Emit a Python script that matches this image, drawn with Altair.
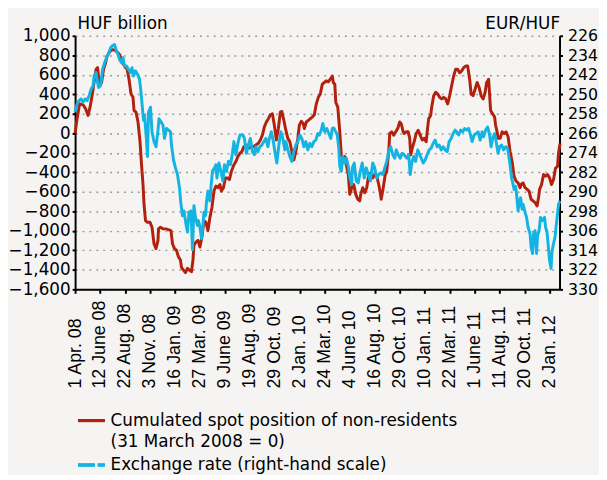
import json
import altair as alt
import pandas as pd

# x: business-day index counted from 1 Apr. 2008 (one tick label every 50 days)
tick_labels = ["1 Apr. 08", "12 June 08", "22 Aug. 08", "3 Nov. 08", "16 Jan. 09",
               "27 Mar. 09", "9 June 09", "19 Aug. 09", "29 Oct. 09", "2 Jan. 10",
               "24 Mar. 10", "4 June 10", "16 Aug. 10", "29 Oct. 10", "10 Jan. 11",
               "22 Mar. 11", "1 June 11", "11 Aug. 11", "20 Oct. 11", "2 Jan. 12"]

# Cumulated spot position of non-residents (HUF billion)
red_day = [0, 4, 9, 16, 21, 26, 30, 34, 38, 42, 45, 49, 53, 57, 61, 64, 70, 75, 80, 86, 89, 93, 97,
           101, 104, 108, 112, 116, 118, 122, 126, 130, 133, 136, 138, 141, 145, 150, 154, 158, 162,
           166, 167, 171, 176, 182, 188, 192, 195, 199, 203, 207, 211, 213, 217, 221, 225, 229, 233,
           236, 238, 242, 246, 250, 254, 258, 262, 266, 270, 274, 278, 282, 286, 290, 293, 297, 301,
           305, 309, 313, 318, 322, 326, 330,
           334, 338, 343, 347, 353, 357, 362, 367, 371, 375, 379, 383, 387, 391, 395, 399, 403, 407,
           411, 414, 418, 422, 426, 430, 434, 438, 442, 446, 449, 453, 457, 459, 463, 467, 471, 475,
           479, 483, 487, 491, 495, 499, 503, 507, 511, 515, 517, 520, 522, 526, 530, 533, 536, 540,
           543, 547, 550, 554, 558, 562, 566, 570, 572, 576, 580, 584, 588, 592, 596, 600, 604, 608,
           611, 613, 617, 621, 624, 628, 630, 634, 638, 642, 646, 650, 653, 657, 659,
           663, 667, 670, 672, 675, 679, 683, 687, 691, 695, 699, 703, 705, 708, 712, 714, 718, 722,
           726, 730, 734, 738, 742, 746, 750, 754, 758, 762, 766, 770, 774, 778, 782, 786, 790, 793,
           797, 801, 805, 809, 813, 817, 821, 824, 828, 832, 836, 840, 842, 845, 847, 851, 855, 859,
           863, 867, 871, 875, 879, 883, 887, 891, 893, 897, 901, 905, 909, 913, 917, 921, 925, 928,
           930, 934, 938, 942, 946, 950, 954, 958, 962, 966, 968, 971]
red_value = [0, 150, 302, 292, 251, 184, 268, 386, 521, 656, 673, 487, 521, 656, 723, 791, 841, 858,
             852, 825, 808, 757, 707, 673, 663, 555, 403, 369, 234, 217, 116, -86, -322, -525, -727,
             -896, -913, -913, -963, -1132, -1182, -1098, -980, -963, -980, -980, -990, -997, -1132,
             -1182, -1199, -1267, -1300, -1375, -1402, -1429, -1385, -1402, -1419, -1300, -1149,
             -1115, -1098, -1166, -1064, -896, -913, -997, -862, -761, -592, -541, -558, -525, -592,
             -558, -457, -457, -474, -390, -322, -289, -238, -204,
             -187, -137, -120, -154, -137, -137, -120, -103, -69, -19, 66, 116, 150, 190, 201, 83,
             -69, 49, 217, 224, 133, 32, -52, -86, -187, -272, -187, -52, 83, 123, 99, 49, 116, 133,
             150, 167, 190, 302, 369, 403, 504, 521, 538, 528, 555, 588, 521, 504, 319, 268, 15,
             -221, -272, -238, -322, -423, -626, -558, -525, -626, -676, -693, -626, -558, -609,
             -558, -423, -406, -457, -423, -440, -525, -609, -676, -558, -423, -390, -187, -2, 15,
             -19, 15, 49, 116, 99, 15, -2,
             15, 15, -52, -221, -154, -86, -2, 32, -19, -69, -52, -86, 15, 150, 184, 268, 386, 420,
             403, 369, 352, 369, 352, 302, 386, 487, 588, 656, 656, 622, 639, 673, 690, 690, 555,
             403, 386, 454, 521, 470, 386, 352, 420, 521, 555, 234, 201, 167, 83, 15, -52, -52, 15,
             -2, 15, -35, -187, -289, -440, -491, -508, -558, -525, -508, -558, -575, -592, -676,
             -693, -710, -744, -659, -575, -525, -423, -440, -423, -457, -525, -474, -356, -339,
             -204, -103]

# Exchange rate EUR/HUF (right-hand scale, inverted)
blue_day = [0, 4, 8, 12, 16, 20, 24, 28, 32, 36, 38, 42, 45, 47, 51, 55, 59, 63, 67, 71, 75, 79, 82,
            86, 89, 93, 96, 99, 103, 107, 111, 114, 117, 121, 125, 129, 132, 134, 137, 139, 142, 145,
            147, 151, 154, 158, 162, 166, 168, 172, 176, 179, 183, 187, 191, 193, 197, 201, 205, 209,
            212, 215, 218, 222, 225, 228, 232, 235, 238, 241, 245, 247, 250, 253, 255, 258, 261, 263,
            266, 270, 272, 275, 279, 282, 284, 288, 292, 296, 299, 303, 307, 311, 315, 318, 322, 326,
            330,
            336, 339, 343, 347, 351, 355, 359, 362, 366, 370, 374, 378, 382, 386, 389, 393, 397, 401,
            404, 408, 412, 416, 420, 422, 426, 430, 434, 438, 442, 446, 450, 454, 458, 462, 466, 470,
            474, 478, 482, 486, 489, 493, 496, 500, 504, 508, 512, 515, 518, 522, 525, 528, 530, 533,
            536, 540, 543, 547, 550, 554, 555, 559, 563, 567, 571, 575, 579, 583, 587, 591, 593, 596,
            600, 604, 608, 612, 616, 620, 624, 628, 632, 636, 640, 643, 647, 651, 655, 659,
            664, 668, 671, 674, 678, 682, 686, 689, 693, 697, 701, 705, 709, 713, 717, 721, 725, 729,
            733, 737, 741, 745, 749, 753, 757, 761, 764, 768, 772, 776, 780, 784, 788, 791, 795, 799,
            803, 807, 811, 815, 818, 822, 826, 830, 833, 836, 840, 843, 847, 850, 854, 858, 862, 866,
            868, 871, 874, 877, 879, 882, 884, 887, 890, 892, 895, 897, 901, 904, 907, 911, 913, 916,
            918, 921, 924, 926, 929, 932, 936, 940, 942, 945, 947, 950, 953, 955, 958, 961, 963, 966,
            968, 971]
blue_rate = [257.3, 253.9, 252.6, 251.9, 253.3, 251.9, 252.6, 250.6, 247.9, 246.5, 242.5, 241.1,
             245.2, 247.2, 246.5, 239.8, 237.1, 235.0, 233.3, 231.0, 230.0, 229.6, 231.7, 233.7,
             235.7, 237.1, 235.0, 238.4, 238.4, 239.8, 241.1, 239.1, 242.5, 240.4, 241.8, 243.8,
             249.2, 253.9, 260.7, 258.6, 266.1, 275.5, 257.3, 255.3, 265.4, 269.4, 271.5, 264.7,
             260.0, 261.3, 262.7, 268.1, 264.0, 264.7, 265.4, 270.8, 276.9, 280.2, 282.9, 288.3,
             295.1, 299.8, 297.8, 303.2, 306.5, 298.4, 297.8, 313.7, 295.7, 300.5, 303.8, 301.8,
             304.5, 309.2, 305.9, 298.4, 299.8, 294.4, 289.7, 293.7, 288.3, 281.6, 280.2, 278.9,
             284.3, 278.2, 281.6, 285.6, 278.9, 281.6, 277.5, 278.9, 274.2, 269.4, 274.8, 270.1,
             266.7,
             266.7, 268.1, 274.2, 270.8, 268.1, 273.5, 274.8, 271.5, 273.5, 271.5, 270.8, 269.4,
             268.1, 271.5, 268.1, 265.4, 269.4, 274.8, 278.2, 270.8, 265.4, 268.1, 272.8, 269.4,
             272.8, 275.5, 277.5, 273.5, 270.8, 269.4, 266.7, 268.1, 271.5, 269.4, 272.8, 270.1,
             271.5, 269.4, 268.8, 266.1, 266.7, 264.7, 262.0, 265.4, 264.0, 266.1, 268.1, 264.0,
             263.8, 265.4, 266.7, 272.1, 279.6, 281.6, 275.5, 278.2, 276.2, 279.6, 284.3, 287.0,
             280.2, 278.2, 285.6, 286.3, 281.6, 278.2, 284.3, 280.2, 282.9, 285.6, 282.9, 278.2,
             280.2, 284.3, 282.9, 282.3, 282.9, 280.2, 277.5, 273.5, 271.5, 274.8, 276.2, 272.8,
             274.8, 276.2, 274.2, 274.8,
             276.2, 274.8, 282.9, 278.2, 275.5, 277.5, 272.8, 274.2, 276.2, 278.2, 276.9, 274.8,
             272.8, 272.1, 270.1, 268.8, 271.5, 270.8, 272.8, 271.5, 272.8, 273.5, 269.4, 268.1,
             266.1, 264.7, 265.4, 266.7, 264.7, 265.4, 264.0, 264.7, 264.0, 266.1, 269.4, 266.7,
             266.1, 265.4, 268.8, 265.4, 267.4, 264.7, 263.4, 266.7, 271.5, 268.1, 266.1, 269.4,
             274.2, 271.5, 270.8, 272.8, 271.5, 272.1, 274.8, 278.9, 284.3, 287.0, 289.0, 287.7,
             291.0, 297.8, 293.7, 292.4, 297.1, 295.1, 298.4, 300.5, 304.5, 307.2, 312.6, 315.3,
             307.2, 305.9, 315.3, 307.9, 305.9, 300.5, 301.8, 300.5, 304.5, 306.5, 311.2, 318.0,
             321.4, 314.3, 311.2, 308.6, 304.5, 299.1, 295.1, 293.7]

legend_lines = ["Cumulated spot position of non-residents", "(31 March 2008 = 0)",
                "Exchange rate (right-hand scale)"]

RED = "#B1210E"
BLUE = "#14B4E2"
FONT = "DejaVu Sans"

red_df = pd.DataFrame({"day": red_day, "value": red_value})
blue_df = pd.DataFrame({"day": blue_day, "rate": blue_rate})

x_enc = alt.X(
    "day:Q",
    scale=alt.Scale(domain=[0, 970], nice=False, zero=False),
    axis=alt.Axis(
        values=list(range(0, 1000, 50)),
        labelExpr=json.dumps(tick_labels) + "[round(datum.value / 50)]",
        labelAngle=270, labelAlign="left", labelBaseline="middle",
        labelPadding=96, tickSize=4, labelFlush=False, labelOverlap=False,
        labelFont="Liberation Sans", labelFontSize=18, grid=False, title=None,
    ),
)

red_line = alt.Chart(red_df).mark_line(color=RED, strokeWidth=3, strokeJoin="round").encode(
    x=x_enc,
    y=alt.Y(
        "value:Q",
        scale=alt.Scale(domain=[-1600, 1000], nice=False, zero=False),
        axis=alt.Axis(
            values=list(range(-1600, 1001, 200)), format=",.0f",
            title="HUF billion", titleAngle=0, titleAlign="left", titleBaseline="alphabetic",
            titleX=2, titleY=-7, grid=True, gridDash=[2, 5], gridColor="#9c9c9c",
            gridWidth=1.5, tickSize=3, labelPadding=2,
        ),
    ),
)

blue_line = alt.Chart(blue_df).mark_line(color=BLUE, strokeWidth=3, strokeJoin="round").encode(
    x=x_enc,
    y=alt.Y(
        "rate:Q",
        scale=alt.Scale(domain=[226, 330], reverse=True, nice=False, zero=False),
        axis=alt.Axis(
            orient="right", values=list(range(226, 331, 8)), format=".0f",
            title="EUR/HUF", titleAngle=0, titleAlign="right", titleBaseline="alphabetic",
            titleX=0, titleY=-7, grid=False, tickSize=3, labelPadding=5, labelFontSize=16,
        ),
    ),
)

lines = alt.layer(red_line, blue_line).resolve_scale(y="independent")

leg_df = pd.DataFrame({"label": legend_lines})
leg_red = alt.Chart(leg_df).mark_rule(color=RED, strokeWidth=3).encode(
    x=alt.value(3), x2=alt.value(30), y=alt.value(390))
leg_blue = alt.Chart(leg_df).mark_rule(color=BLUE, strokeWidth=3, strokeDash=[17, 3]).encode(
    x=alt.value(3), x2=alt.value(30), y=alt.value(435))


def legend_text(i, ypx):
    return alt.Chart(leg_df).transform_filter(
        alt.datum.label == legend_lines[i]
    ).mark_text(align="left", baseline="middle", font=FONT, fontSize=17, color="black").encode(
        x=alt.value(36), y=alt.value(ypx), text="label:N")


chart = alt.layer(
    lines, leg_red, leg_blue,
    legend_text(0, 390), legend_text(1, 412), legend_text(2, 435),
).properties(
    width=491, height=257,
    padding={"left": 68, "top": 25, "right": 40, "bottom": 185},
    autosize=alt.AutoSizeParams(type="none"),
    background="#F5F4F2",
).configure_view(
    stroke="transparent"
).configure_axis(
    domainColor="black", domainWidth=2, tickColor="black", tickWidth=2,
    labelFont=FONT, labelFontSize=17, labelColor="black",
    titleFont=FONT, titleFontSize=17, titleFontWeight="normal", titleColor="black",
)

chart.save("out.html", embed_options={"renderer": "svg", "actions": False})
